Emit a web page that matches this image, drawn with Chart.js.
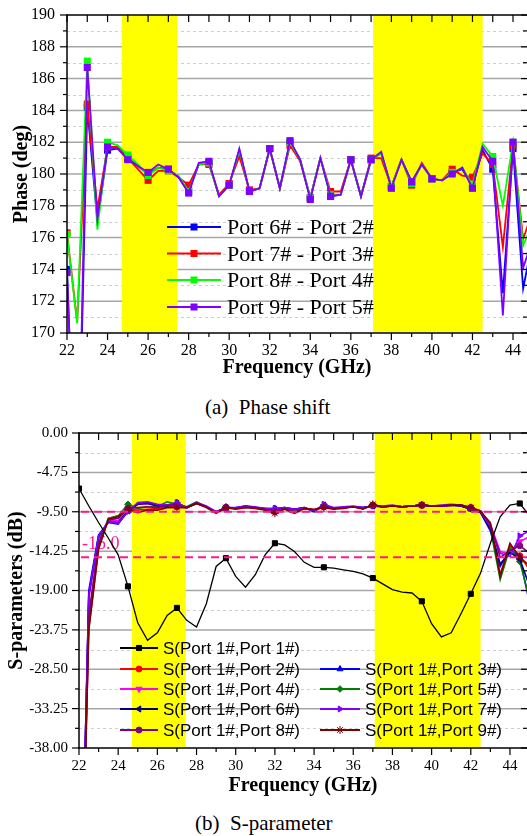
<!DOCTYPE html>
<html><head><meta charset="utf-8">
<script src="https://cdn.jsdelivr.net/npm/chart.js@4.4.0/dist/chart.umd.min.js"></script>
<style>
html,body{margin:0;padding:0;background:#fff;}
body{width:527px;height:836px;position:relative;overflow:hidden;}
.wrap{position:absolute;left:0;width:527px;height:390px;}
.cap{position:absolute;font-family:"Liberation Serif","Times New Roman",serif;font-size:21px;color:#000;white-space:pre;line-height:24px;}
</style></head><body>
<div class="wrap" style="top:0"><canvas id="c1" width="527" height="390"></canvas></div>
<div class="wrap" style="top:420px"><canvas id="c2" width="527" height="390"></canvas></div>
<div class="cap" style="left:205px;top:395px">(a)  Phase shift</div>
<div class="cap" style="left:195px;top:811px">(b)  S-parameter</div>
<script>
// ---------------- DATA ----------------
const freq = [22,22.5,23,23.5,24,24.5,25,25.5,26,26.5,27,27.5,28,28.5,29,29.5,30,30.5,31,31.5,32,32.5,33,33.5,34,34.5,35,35.5,36,36.5,37,37.5,38,38.5,39,39.5,40,40.5,41,41.5,42,42.5,43,43.5,44,44.5,45];

const phase62 = [174.0,157,184.2,177.0,181.5,181.6,181.0,180.5,180.0,180.4,180.3,179.8,178.9,180.6,180.7,178.6,179.3,181.5,178.9,179.1,181.6,179.1,182.0,180.9,178.5,181.0,178.6,178.7,180.9,178.6,180.9,181.3,179.2,180.9,179.5,180.6,179.7,179.6,180.1,180.3,179.2,181.5,180.3,172.5,181.6,172.8,176.0];
const phase73 = [176.3,170.7,184.4,177.8,181.7,181.7,181.0,180.3,179.6,180.2,180.2,179.8,179.3,180.6,180.6,178.7,179.4,181.1,179.0,179.1,181.6,179.1,181.8,180.8,178.5,181.0,178.9,178.9,180.9,178.6,181.0,181.0,179.2,180.9,179.3,180.7,179.7,179.6,180.3,179.9,179.8,181.3,180.6,175.4,181.8,175.9,177.8];
const phase84 = [176.2,170.6,187.1,176.5,182.0,181.8,181.2,180.6,179.9,180.4,180.2,179.9,178.9,180.6,180.7,178.6,179.3,181.5,178.9,179.1,181.6,179.1,182.0,180.9,178.5,181.0,178.7,178.7,180.9,178.6,180.9,181.3,179.2,180.9,179.4,180.6,179.7,179.6,180.1,180.4,179.3,181.9,181.1,178.0,182.0,175.5,177.0];
const phase95 = [173.8,157,186.7,177.2,181.7,181.6,180.9,180.5,180.1,180.6,180.3,179.8,178.8,180.7,180.8,178.6,179.3,181.6,178.9,179.1,181.6,179.1,182.1,180.9,178.4,181.0,178.6,178.7,180.9,178.6,180.9,181.4,179.1,180.9,179.5,180.6,179.7,179.6,180.0,180.4,179.1,181.7,180.8,171.1,182.0,174.1,176.0];

const s11 = [-6.7,-8.8,-10.8,-12.7,-14.7,-18.5,-22.9,-25.0,-24.1,-22.0,-21.1,-22.6,-23.4,-20.6,-16.1,-15.1,-17.3,-18.6,-17.1,-14.7,-13.3,-13.5,-14.3,-15.6,-16.2,-16.2,-16.3,-16.5,-16.7,-17.0,-17.5,-18.2,-18.9,-19.2,-19.3,-20.3,-23.0,-24.6,-24.1,-21.8,-19.4,-16.9,-13.3,-10.1,-8.7,-8.5,-10.0];
const s12 = [-70,-23.5,-13.9,-10.3,-10.0,-9.2,-9.3,-9.2,-9.1,-8.9,-8.9,-9.0,-8.4,-8.9,-9.6,-9.0,-9.1,-8.9,-9.0,-9.2,-9.5,-9.1,-9.4,-9.1,-9.3,-8.9,-9.1,-9.0,-8.9,-9.1,-8.7,-8.9,-8.8,-8.9,-8.8,-8.7,-8.8,-8.8,-8.7,-8.7,-9.0,-9.4,-11.2,-17.0,-13.6,-14.8,-16.5];
const s13 = [-70,-19.0,-12.3,-10.8,-11.0,-9.4,-8.5,-8.4,-8.7,-8.8,-8.4,-9.0,-8.5,-8.9,-9.5,-9.1,-9.0,-8.8,-9.0,-9.1,-9.1,-9.0,-9.2,-9.0,-9.5,-8.7,-9.1,-9.0,-8.9,-9.0,-8.8,-8.9,-8.8,-8.9,-8.8,-8.7,-8.8,-8.8,-8.7,-8.8,-9.2,-9.6,-11.8,-16.1,-14.0,-15.0,-20.5];
const s14 = [-70,-20.0,-12.8,-10.6,-10.6,-9.3,-8.6,-8.5,-8.8,-8.7,-8.6,-9.0,-8.4,-8.9,-9.6,-9.0,-9.1,-8.9,-9.0,-9.2,-9.3,-9.1,-9.3,-9.1,-9.3,-8.9,-9.1,-9.0,-8.9,-9.1,-8.8,-8.9,-8.8,-8.9,-8.8,-8.7,-8.8,-8.8,-8.7,-8.7,-9.1,-9.5,-11.0,-14.3,-14.6,-13.1,-12.5];
const s15 = [-70,-22.5,-13.3,-10.3,-10.0,-8.6,-9.1,-8.9,-8.9,-8.3,-8.6,-8.9,-8.3,-8.9,-9.6,-8.9,-9.1,-8.9,-9.0,-9.2,-9.4,-9.1,-9.4,-9.1,-9.3,-8.9,-9.1,-9.0,-8.9,-9.1,-8.7,-8.9,-8.8,-8.9,-8.8,-8.7,-8.8,-8.8,-8.7,-8.7,-9.1,-9.4,-11.5,-17.7,-13.8,-15.5,-20.0];
const s16 = [-70,-19.5,-12.5,-10.7,-10.8,-9.4,-8.6,-8.5,-8.8,-8.8,-8.5,-9.0,-8.5,-8.9,-9.5,-9.0,-9.1,-8.8,-9.0,-9.1,-9.2,-9.0,-9.2,-9.0,-9.4,-8.7,-9.1,-9.0,-8.9,-9.0,-8.8,-8.9,-8.8,-8.9,-8.8,-8.7,-8.8,-8.8,-8.7,-8.8,-9.2,-9.6,-11.6,-15.8,-14.4,-15.2,-18.5];
const s17 = [-70,-19.5,-12.4,-10.7,-10.9,-9.5,-8.4,-8.3,-8.6,-8.7,-8.4,-9.0,-8.4,-8.8,-9.5,-9.0,-9.0,-8.8,-8.9,-9.1,-9.1,-9.0,-9.2,-9.0,-9.4,-8.6,-9.0,-8.9,-8.8,-9.0,-8.8,-8.8,-8.7,-8.9,-8.8,-8.7,-8.8,-8.7,-8.6,-8.7,-9.1,-9.5,-11.3,-14.5,-14.9,-12.4,-11.8];
const s18 = [-70,-22.0,-13.4,-10.5,-10.3,-9.1,-9.0,-8.9,-9.0,-8.7,-8.8,-9.0,-8.4,-8.9,-9.6,-9.0,-9.1,-8.9,-9.0,-9.2,-9.5,-9.1,-9.5,-9.1,-9.3,-8.9,-9.1,-9.0,-8.9,-9.1,-8.7,-8.9,-8.8,-8.9,-8.8,-8.7,-8.8,-8.8,-8.7,-8.7,-9.0,-9.4,-11.0,-15.0,-14.2,-13.6,-14.5];
const s19 = [-70,-23.8,-14.0,-10.4,-10.1,-9.2,-9.6,-9.3,-9.3,-9.0,-9.0,-9.0,-8.5,-9.0,-9.7,-9.0,-9.2,-9.0,-9.1,-9.3,-9.7,-9.2,-9.7,-9.1,-9.2,-9.0,-9.2,-9.1,-8.9,-9.2,-8.6,-8.9,-8.8,-8.9,-8.8,-8.7,-8.8,-8.8,-8.7,-8.7,-9.0,-9.5,-10.8,-17.3,-13.3,-15.0,-16.0];

const freqTickLabels = [22,24,26,28,30,32,34,36,38,40,42,44];
const freqMinorTicks = [23,25,27,29,31,33,35,37,39,41,43];
const phaseTickLabels = [170,172,174,176,178,180,182,184,186,188,190];
const phaseMinorTicks = [171,173,175,177,179,181,183,185,187,189];
const sTickLabels = [0,-4.75,-9.5,-14.25,-19,-23.75,-28.5,-33.25,-38];
const sMinorTicks = [-2.375,-7.125,-11.875,-16.625,-21.375,-26.125,-30.875,-35.625];
const bandsGHz = [[24.7,27.45],[37.1,42.5]];
const refLevels = [-9.5,-15.0];

const phaseNames = ['Port 6# - Port 2#','Port 7# - Port 3#','Port 8# - Port 4#','Port 9# - Port 5#'];
const sNames = ['S(Port 1#,Port 1#)','S(Port 1#,Port 2#)','S(Port 1#,Port 3#)','S(Port 1#,Port 4#)','S(Port 1#,Port 5#)','S(Port 1#,Port 6#)','S(Port 1#,Port 7#)','S(Port 1#,Port 8#)','S(Port 1#,Port 9#)'];

// ---------------- STYLE ----------------
const SERIF = "'Liberation Serif','Times New Roman',serif";
const SANS = "'Liberation Sans',Arial,sans-serif";
const phaseColors = ['#0000ff','#ff0000','#00ff00','#8000ff'];
const sColors = ['#000000','#ff0000','#0000ff','#ff00ff','#008000','#000080','#8000ff','#800080','#800000'];
const sStyles = [
  {ps:'rect',rot:0,r:3.6},{ps:'circle',rot:0,r:3},{ps:'triangle',rot:0,r:3.5},{ps:'triangle',rot:180,r:3.5},
  {ps:'rectRot',rot:0,r:3.3},{ps:'triangle',rot:-90,r:3.5},{ps:'triangle',rot:90,r:3.5},{ps:'circle',rot:0,r:3},{ps:'star',rot:0,r:4}
];
const PINK = '#ff1a8c';

function line(ctx,x1,y1,x2,y2){ctx.beginPath();ctx.moveTo(x1,y1);ctx.lineTo(x2,y2);ctx.stroke();}
function mark(ctx, st, color, x, y){
  ctx.fillStyle=color; ctx.strokeStyle=color; ctx.lineWidth=1; ctx.setLineDash([]);
  Chart.helpers.drawPoint(ctx,{pointStyle:st.ps,rotation:st.rot,radius:st.r,borderWidth:1},x,y);
}

function decor(cfg){
  return {
    id: cfg.id,
    beforeDatasetsDraw(chart){
      const {ctx, chartArea:a} = chart; const x=chart.scales.x, y=chart.scales.y;
      ctx.save();
      ctx.strokeStyle='#cfcfcf'; ctx.lineWidth=1; ctx.setLineDash([3,3]);
      cfg.gridMinor.forEach(v=>{const p=Math.round(y.getPixelForValue(v))+0.5; line(ctx,a.left,p,a.right,p);});
      ctx.setLineDash([]); ctx.strokeStyle='#a6a6a6'; ctx.lineWidth=1.5;
      cfg.gridMajor.forEach(v=>{const p=y.getPixelForValue(v); if(p>a.top+1&&p<a.bottom-1) line(ctx,a.left,p,a.right,p);});
      ctx.fillStyle='#ffff00';
      bandsGHz.forEach(b=>{const x0=x.getPixelForValue(b[0]),x1=x.getPixelForValue(b[1]); ctx.fillRect(x0,a.top+1,x1-x0,a.bottom-a.top-2);});
      if(cfg.before) cfg.before(chart);
      ctx.restore();
    },
    afterDatasetsDraw(chart){
      const {ctx, chartArea:a} = chart; const x=chart.scales.x, y=chart.scales.y;
      ctx.save();
      if(cfg.after) cfg.after(chart);
      ctx.strokeStyle='#000'; ctx.lineWidth=1.5; ctx.setLineDash([]);
      line(ctx,a.left,a.top,a.right+2,a.top);
      line(ctx,a.left,a.top-0.75,a.left,a.bottom+0.75);
      line(ctx,a.left-0.75,a.bottom,a.right+2,a.bottom);
      ctx.lineWidth=1.2;
      freqTickLabels.forEach(v=>{const p=x.getPixelForValue(v); line(ctx,p,a.bottom,p,a.bottom+7); line(ctx,p,a.top,p,a.top+7);});
      freqMinorTicks.forEach(v=>{const p=x.getPixelForValue(v); line(ctx,p,a.bottom,p,a.bottom+4); line(ctx,p,a.top,p,a.top+7);});
      cfg.yMajor.forEach(v=>{const p=y.getPixelForValue(v); line(ctx,a.left-7,p,a.left,p); line(ctx,a.right-6,p,a.right,p);});
      cfg.yMinor.forEach(v=>{const p=y.getPixelForValue(v); line(ctx,a.left-4,p,a.left,p); line(ctx,a.right-4,p,a.right,p);});
      if(cfg.legend) cfg.legend(chart);
      ctx.restore();
    }
  };
}

function zeroPad(s){s.paddingLeft=0;s.paddingRight=0;s.paddingTop=0;s.paddingBottom=0;}

function baseScales(o){
  return {
    x:{type:'linear',min:22,max:o.xmax,
      afterBuildTicks:s=>{s.ticks=freqTickLabels.map(v=>({value:v}));},
      afterFit:s=>{s.height=o.xh; zeroPad(s);},
      grid:{display:false,drawTicks:false},border:{display:false},
      ticks:{autoSkip:false,maxRotation:0,padding:o.xpad,color:'#000',font:{family:SERIF,size:o.tfs},callback:v=>String(v)},
      title:{display:true,text:'Frequency (GHz)',color:'#000',font:{family:SERIF,size:20,weight:'bold'},padding:{top:0,bottom:o.xtpad}}
    },
    y:{type:'linear',min:o.ymin,max:o.ymax,
      afterBuildTicks:s=>{s.ticks=o.yticks.map(v=>({value:v}));},
      afterFit:s=>{s.width=o.yw; zeroPad(s);},
      grid:{display:false,drawTicks:false},border:{display:false},
      ticks:{autoSkip:false,padding:o.ypad,color:'#000',font:{family:SERIF,size:o.tfs},callback:o.fmt},
      title:{display:true,text:o.ytitle,color:'#000',font:{family:SERIF,size:20,weight:'bold'},padding:{top:o.ytpad,bottom:0}}
    }
  };
}

const pts = arr => freq.map((f,i)=>({x:f,y:arr[i]}));

// ---------------- CHART 1: phase ----------------
const phaseSeries = [phase62,phase73,phase84,phase95];
const drawOrder1 = [3,2,1,0];
new Chart(document.getElementById('c1'),{
  type:'line',
  data:{datasets:drawOrder1.map(k=>({
    label:phaseNames[k],data:pts(phaseSeries[k]),borderColor:phaseColors[k],backgroundColor:phaseColors[k],
    borderWidth:1.8,pointStyle:'rect',pointRadius:c=>c.dataIndex%2===0?5:0,pointBorderWidth:0,
    tension:0,clip:0,fill:false
  }))},
  options:{
    responsive:false,animation:false,devicePixelRatio:1,
    layout:{autoPadding:false,padding:{top:15,right:0,left:0,bottom:0}},
    plugins:{legend:{display:false},tooltip:{enabled:false}},
    scales:baseScales({xmax:44.69,xh:57,xpad:8,xtpad:10,tfs:16,ymin:170,ymax:190,yticks:phaseTickLabels,yw:67,ypad:12,ytitle:'Phase (deg)',ytpad:10,fmt:v=>String(v)}),
  },
  plugins:[decor({id:'d1',gridMajor:phaseTickLabels,gridMinor:phaseMinorTicks,yMajor:phaseTickLabels,yMinor:phaseMinorTicks,
    legend(chart){
      const ctx=chart.ctx; const rows=[227,253.5,280,307];
      ctx.font='22px '+SERIF; ctx.textBaseline='alphabetic'; ctx.textAlign='left';
      rows.forEach((ry,k)=>{
        ctx.strokeStyle=phaseColors[k]; ctx.lineWidth=2; ctx.setLineDash([]);
        line(ctx,167,ry,221,ry);
        ctx.fillStyle=phaseColors[k]; ctx.fillRect(190.5,ry-3.5,7,7);
        ctx.fillStyle='#000'; ctx.fillText(phaseNames[k],227,ry+7.3);
      });
    }
  })]
});

// ---------------- CHART 2: S-parameters ----------------
const sSeries = [s11,s12,s13,s14,s15,s16,s17,s18,s19];
const drawOrder2 = [0,8,7,6,5,4,3,2,1];
new Chart(document.getElementById('c2'),{
  type:'line',
  data:{datasets:drawOrder2.map(k=>({
    label:sNames[k],data:pts(sSeries[k]),borderColor:sColors[k],backgroundColor:sColors[k],
    borderWidth:k===0?1.3:1.6,pointStyle:sStyles[k].ps,pointRotation:sStyles[k].rot,
    pointRadius:c=>c.dataIndex%5===0?sStyles[k].r:0,pointBorderWidth:1,
    tension:0,clip:0,fill:false
  }))},
  options:{
    responsive:false,animation:false,devicePixelRatio:1,
    layout:{autoPadding:false,padding:{top:13,right:0,left:0,bottom:0}},
    plugins:{legend:{display:false},tooltip:{enabled:false}},
    scales:baseScales({xmax:44.87,xh:62,xpad:9,xtpad:12,tfs:15,ymin:-38,ymax:0,yticks:sTickLabels,yw:79,ypad:11,ytitle:'S-parameters (dB)',ytpad:5,fmt:v=>Number(v).toFixed(2)}),
  },
  plugins:[decor({id:'d2',gridMajor:sTickLabels,gridMinor:sMinorTicks,yMajor:sTickLabels,yMinor:sMinorTicks,
    before(chart){
      const ctx=chart.ctx;
      ctx.fillStyle=PINK; ctx.font='18px '+SERIF; ctx.textAlign='left'; ctx.textBaseline='alphabetic';
      ctx.fillText(refLevels[1].toFixed(1),82,128.5);
    },
    after(chart){
      const ctx=chart.ctx,a=chart.chartArea,y=chart.scales.y;
      ctx.strokeStyle=PINK; ctx.lineWidth=2; ctx.setLineDash([8,5]);
      refLevels.forEach(v=>{const p=y.getPixelForValue(v); line(ctx,a.left+2,p,a.right,p);});
      ctx.setLineDash([]);
    },
    legend(chart){
      const ctx=chart.ctx;
      const cells=[[0,0,228],[1,0,249],[2,1,249],[3,0,269],[4,1,269],[5,0,289],[6,1,289],[7,0,310],[8,1,310]];
      const cols=[[120,158,163],[320,360,365]];
      ctx.font='17px '+SANS; ctx.textAlign='left'; ctx.textBaseline='alphabetic';
      cells.forEach(([k,c,ry])=>{
        const [x0,x1,tx]=cols[c];
        ctx.strokeStyle=sColors[k]; ctx.lineWidth=2; ctx.setLineDash([]);
        line(ctx,x0,ry,x1,ry);
        mark(ctx,sStyles[k],sColors[k],(x0+x1)/2,ry);
        ctx.fillStyle='#000'; ctx.fillText(sNames[k],tx,ry+6.1);
      });
    }
  })]
});
</script>
</body></html>
